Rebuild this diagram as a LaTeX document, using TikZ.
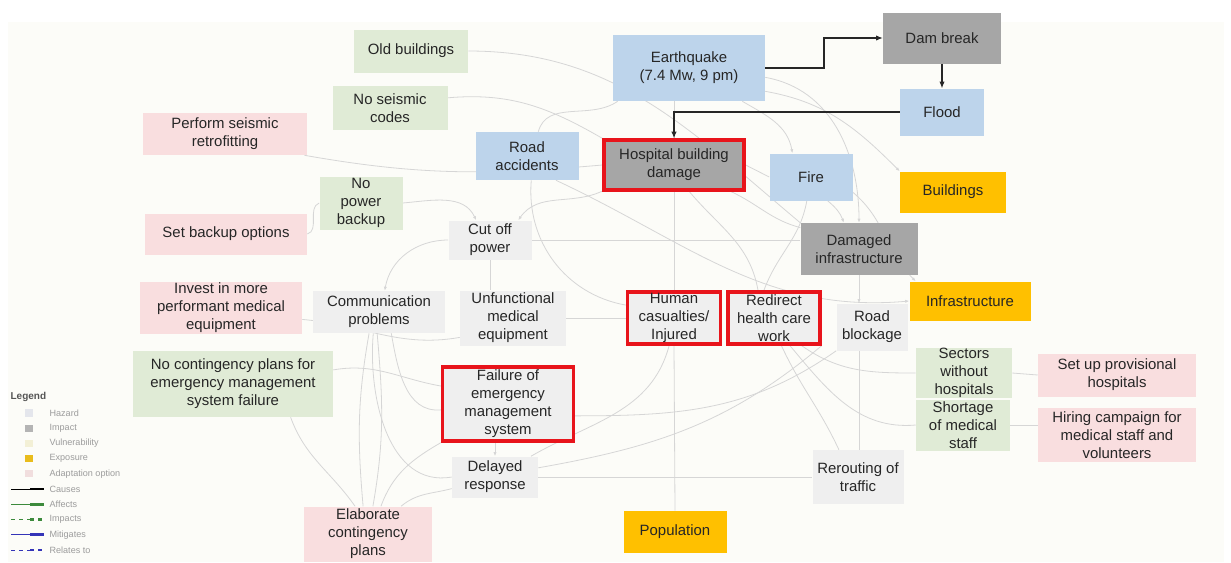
\documentclass[tikz,border=0pt]{standalone}
\usepackage{fontspec}
\setmainfont{Liberation Sans}
\usetikzlibrary{positioning,arrows.meta,backgrounds,calc}

\definecolor{hazc}{HTML}{BDD4EB}
\definecolor{impc}{HTML}{A6A6A6}
\definecolor{secc}{HTML}{EFEFEF}
\definecolor{vulc}{HTML}{E0EBD6}
\definecolor{expc}{HTML}{FFC000}
\definecolor{adpc}{HTML}{F9DEDF}
\definecolor{critc}{HTML}{E8141B}
\definecolor{lkc}{HTML}{D6D6D6}
\definecolor{txtc}{HTML}{262626}
\definecolor{paper}{HTML}{FCFCF8}
\definecolor{lghaz}{HTML}{E4E6EC}
\definecolor{lgimp}{HTML}{B4B4B4}
\definecolor{lgvul}{HTML}{F3F0D6}
\definecolor{lgexp}{HTML}{E9BC1C}
\definecolor{lgadp}{HTML}{F1DEDE}
\definecolor{lgaff}{HTML}{3C8A3C}
\definecolor{lgmit}{HTML}{3434B8}
\definecolor{lgtit}{HTML}{555555}
\definecolor{lgtxc}{HTML}{9C9C9C}

\begin{document}
\begin{tikzpicture}[
  x=0.75pt,y=0.75pt,
  font=\fontsize{11.2}{13.5}\selectfont,
  box/.style={align=center,inner sep=1pt,text=txtc},
  sz/.style 2 args={minimum width=#1*0.75pt,minimum height=#2*0.75pt},
  haz/.style={box,fill=hazc},
  imp/.style={box,fill=impc},
  sec/.style={box,fill=secc},
  vul/.style={box,fill=vulc},
  expo/.style={box,fill=expc},
  adap/.style={box,fill=adpc},
  crit/.style={draw=critc,line width=2.5pt},
  lk/.style={draw=lkc,line width=0.6pt},
  lka/.style={lk,-{Latex[length=3pt,width=2.4pt]}},
  cause/.style={-{Latex[length=5pt,width=4pt]},line width=0.8pt,draw=black!85},
  lgtxt/.style={anchor=west,inner sep=1pt,text=lgtxc,font=\fontsize{6.8}{8}\selectfont},
]
\useasboundingbox (0,0) rectangle (1231,-562);

%% hazards and impacts
\node[haz,sz={152}{66}] (eq) at (689,-68) {Earthquake\\(7.4 Mw, 9 pm)};
\node[imp,sz={118}{51}] (dam) at (942,-38) {Dam break};
\node[haz,sz={84}{47}] (flood) at (942,-112) {Flood};
\node[haz,sz={103}{48}] (road) at (527,-156) {Road\\accidents};
\node[imp,crit,sz={140}{50}] (hosp) at (674,-165) {Hospital building\\damage};
\node[haz,sz={83}{47}] (fire) at (811,-177) {Fire};
\node[sec,sz={83}{39}] (cut) at (490,-240) {Cut off\\power};
\node[imp,sz={117}{52}] (dinf) at (859,-249) {Damaged\\infrastructure};
\node[sec,sz={132}{42}] (comm) at (379,-312) {Communication\\problems};
\node[sec,sz={106}{55}] (unf) at (513,-318) {Unfunctional\\medical\\equipment};
\node[sec,crit,inner ysep=0pt,sz={93}{52}] (human) at (674,-318) {Human\\casualties/\\Injured};
\node[sec,crit,inner ysep=0pt,sz={92}{52}] (redir) at (774,-318) {Redirect\\health care\\work};
\node[sec,sz={71}{47}] (rblock) at (872,-327) {Road\\blockage};
\node[sec,crit,sz={131}{74}] (fail) at (508,-404) {Failure of\\emergency\\management\\system};
\node[sec,sz={86}{41}] (delay) at (495,-477) {Delayed\\response};
\node[sec,sz={91}{54}] (reroute) at (858,-477) {Rerouting of\\traffic};

%% vulnerabilities
\node[vul,sz={114}{43}] (old) at (411,-51) {Old buildings};
\node[vul,sz={115}{44}] (seis) at (390,-108) {No seismic\\codes};
\node[vul,sz={83}{53}] (npb) at (361,-203) {No\\power\\backup};
\node[vul,sz={200}{66}] (nocont) at (233,-384) {No contingency plans for\\emergency management\\system failure};
\node[vul,inner ysep=0pt,sz={96}{47}] (sect) at (964,-373) {Sectors\\without\\hospitals};
\node[vul,inner ysep=0pt,sz={94}{51}] (short) at (963,-425) {Shortage\\of medical\\staff};

%% exposure
\node[expo,sz={106}{41}] (build) at (953,-192) {Buildings};
\node[expo,sz={121}{39}] (infra) at (970,-301) {Infrastructure};
\node[expo,sz={103}{42}] (pop) at (675,-532) {Population};

%% adaptation options
\node[adap,sz={164}{42}] (retro) at (225,-134) {Perform seismic\\retrofitting};
\node[adap,sz={162}{41}] (backup) at (226,-234) {Set backup options};
\node[adap,sz={162}{52}] (invest) at (221,-308) {Invest in more\\performant medical\\equipment};
\node[adap,sz={158}{43}] (provis) at (1117,-375) {Set up provisional\\hospitals};
\node[adap,sz={158}{54}] (hiring) at (1117,-435) {Hiring campaign for\\medical staff and\\volunteers};
\node[adap,sz={128}{55}] (elab) at (368,-534) {Elaborate\\contingency\\plans};

\begin{scope}[on background layer]
\fill[paper] (8,-22) rectangle (1224,-562);
\draw[lk] (old.east) to[out=0,in=140] (dinf.north west);
\draw[lk] (seis.10) to[out=5,in=150] (hosp.north west);
\draw[lk] (retro.-15) to[out=-10,in=185] (hosp.west);
\draw[lk] (eq.205) to[out=215,in=75] (road.65);
\draw[lka] (eq.-32) to[out=-30,in=100] (fire.128);
\draw[lk] (eq.south -| hosp.north) -- (hosp.north);
\draw[lka] (eq.-7) to[out=-10,in=90] (dinf.north);
\draw[lka] (eq.-17) to[out=-10,in=135] (build.north west);
\draw[lk] (hosp.east) -- (fire.west);
\draw[lk] (hosp.-25) to[out=-25,in=165] (dinf.160);
\draw[lka] (fire.-55) to[out=-40,in=110] (dinf.120);
\draw[lka] (fire.-20) to[out=-40,in=135] (infra.160);
\draw[lk] (hosp.south) -- (human.north);
\draw[lk] (human.south) -- (pop.north);
\draw[lka] (npb.east) to[out=5,in=115] (cut.125);
\draw[lka] (hosp.200) to[out=205,in=55] (cut.35);
\draw[lk] (road.-80) to[out=-95,in=170] (human.165);
\draw[lka] (road.-40) to[out=-25,in=185] (infra.west);
\draw[lk] (cut.east) -- (cut.east -| dinf.west);
\draw[lk] (cut.south) -- (cut.south |- unf.north);
\draw[lka] (cut.west) to[out=180,in=80] (comm.75);
\draw[lk] (unf.east) -- (human.west);
\draw[lk] (invest.-8) to[out=-5,in=190] (unf.200);
\draw[lk] (comm.-60) to[out=-80,in=185] (fail.185);
\draw[lk] (comm.-105) to[out=-95,in=190] (delay.west);
\draw[lk] (comm.-115) to[out=-100,in=95] (elab.100);
\draw[lk] (comm.-95) to[out=-85,in=80] (elab.80);
\draw[lk] (nocont.-30) to[out=-70,in=125] (elab.115);
\draw[lk] (nocont.8) to[out=10,in=170] (fail.165);
\draw[lk] (elab.65) to[out=70,in=210] (fail.south west);
\draw[lk] (elab.40) to[out=40,in=195] (delay.195);
\draw[lka] (delay.north |- fail.south) -- (delay.north);
\draw[lk] (delay.east) -- (reroute.west);
\draw[lk] (fail.-10) to[out=0,in=215] (rblock.south west);
\draw[lk] (delay.12) to[out=10,in=220] (redir.south east);
\draw[lk] (delay.30) to[out=30,in=-105] (human.-100);
\draw[lk] (redir.-75) to[out=-65,in=115] (reroute.125);
\draw[lk] (redir.-45) to[out=-35,in=180] (sect.west);
\draw[lk] (redir.-60) to[out=-50,in=185] (short.west);
\draw[lk] (sect.east) -- (provis.west);
\draw[lk] (short.east) -- (short.east -| hiring.west);
\draw[lka] (dinf.south) -- (dinf.south |- rblock.north);
\draw[lk] (rblock.south -| dinf.south) -- (reroute.north -| dinf.south);
\draw[lk] (fire.-100) to[out=-100,in=70] (redir.110);
\draw[lk] (hosp.-60) to[out=-50,in=100] (redir.120);
\draw[lk] (backup.east) to[out=15,in=200] (npb.west);
\end{scope}

\draw[cause] (eq.east) -| ($(eq.east)!.5!(dam.west)$) |- (dam.west);
\draw[cause] (dam.south) -- (flood.north);
\draw[cause] (flood.west) -| (hosp.north);

%% legend
\node[anchor=west,inner sep=1pt,text=lgtit,font=\fontsize{7.5}{9}\selectfont\bfseries] (lgd) at (9,-397) {Legend};
\foreach \col/\lbl [count=\i] in {lghaz/Hazard,lgimp/Impact,lgvul/Vulnerability,lgexp/Exposure,lgadp/Adaptation option}{
  \node[fill=\col,minimum size=5.5pt,inner sep=0pt] (lsq\i) at (29,{-413-15.2*(\i-1)}) {};
  \node[lgtxt] (lst\i) at (48,{-413-15.2*(\i-1)}) {\lbl};
}
\foreach \col/\dsh/\lbl [count=\i] in {black/solid/Causes,lgaff/solid/Affects,lgaff/dashed/Impacts,lgmit/solid/Mitigates,lgmit/dashed/Relates to}{
  \draw[\col,\dsh,line width=0.5pt] (11,{-489-15.25*(\i-1)}) -- ++(19,0);
  \draw[\col,\dsh,line width=2pt] (30,{-489-15.25*(\i-1)}) -- ++(14,0);
  \node[lgtxt] (llt\i) at (48,{-489-15.25*(\i-1)}) {\lbl};
}
\end{tikzpicture}
\end{document}
